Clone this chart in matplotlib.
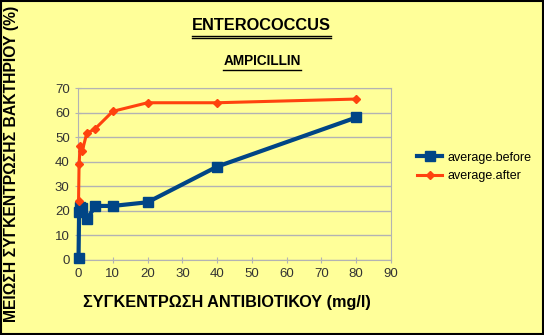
import matplotlib
matplotlib.use('Agg')
import matplotlib.pyplot as plt
from matplotlib.lines import Line2D

plt.rcParams['font.family'] = ['Liberation Sans', 'DejaVu Sans']

# concentrations (mg/l)
conc = [0.156, 0.3125, 0.625, 1.25, 2.5, 5, 10, 20, 40, 80]
avg_before = [1, 19.5, 21.5, 21, 16.5, 22, 22, 23.5, 38, 58]
avg_after = [24, 39, 46.5, 44.5, 51.5, 53.5, 60.5, 64, 64, 65.5]

BG = '#ffff99'
BLUE = '#004586'
ORANGE = '#ff420e'

fig = plt.figure(figsize=(5.44, 3.35), dpi=100, facecolor=BG)
ax = fig.add_axes([78 / 544, 1 - 260 / 335, 313 / 544, 172 / 335])
ax.set_facecolor(BG)

ax.plot(conc, avg_before, color=BLUE, lw=3, marker='s', ms=6.5, label='average.before', clip_on=False, zorder=3)
ax.plot(conc, avg_after, color=ORANGE, lw=2.2, marker='D', ms=4.5, label='average.after', clip_on=False, zorder=4)

ax.set_xlim(0, 90)
ax.set_ylim(0, 70)
ax.set_xticks(range(0, 91, 10))
ax.set_yticks(range(0, 71, 10))
ax.grid(axis='y', color='#b3b3b3', lw=1)
ax.set_axisbelow(True)
for s in ax.spines.values():
    s.set_color('#b3b3b3')
ax.tick_params(colors='#b3b3b3', labelcolor='#333333', labelsize=9.5, direction='inout', length=5)

fig.text(12 / 544, 1 - 164 / 335, 'ΜΕΙΩΣΗ ΣΥΓΚΕΝΤΡΩΣΗΣ ΒΑΚΤΗΡΙΟΥ (%)', rotation=90,
         ha='center', va='center', fontsize=11.3, fontweight='bold')
fig.text(227 / 544, 1 - 302 / 335, 'ΣΥΓΚΕΝΤΡΩΣΗ ΑΝΤΙΒΙΟΤΙΚΟΥ (mg/l)',
         ha='center', va='center', fontsize=11.7, fontweight='bold')

t1 = fig.text(261 / 544, 1 - 26 / 335, 'ENTEROCOCCUS', ha='center', va='center',
              fontsize=11.8, fontweight='bold')
t2 = fig.text(262 / 544, 1 - 61 / 335, 'AMPICILLIN', ha='center', va='center',
              fontsize=9.8, fontweight='bold')

leg = fig.legend(loc='center left', bbox_to_anchor=(406 / 544, 1 - 167 / 335), frameon=False,
                 fontsize=9, handlelength=2.0, labelspacing=0.55, handletextpad=0.4)

# underline the titles
fig.canvas.draw()
r = fig.canvas.get_renderer()
for t, offs in ((t1, (2, 4)), (t2, (2,))):
    bb = t.get_window_extent(r)
    for o in offs:
        y = (bb.y0 - o) / fig.bbox.height
        fig.add_artist(Line2D([bb.x0 / fig.bbox.width, bb.x1 / fig.bbox.width], [y, y],
                              color='black', lw=1, transform=fig.transFigure))

# outer border
fig.add_artist(plt.Rectangle((0.002, 0.003), 0.996, 0.994, fill=False, edgecolor='black',
                             lw=1.5, transform=fig.transFigure))

fig.savefig('out.png', dpi=100, facecolor=BG)
